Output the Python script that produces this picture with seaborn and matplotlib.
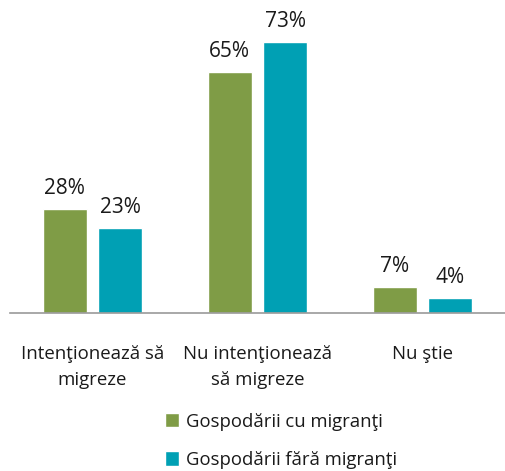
import matplotlib
matplotlib.use("Agg")
from matplotlib import pyplot as plt
import pandas as pd
import seaborn as sns

# Data
categories = ["Intenţionează să\nmigreze", "Nu intenţionează\nsă migreze", "Nu ştie"]
series = ["Gospodării cu migranţi", "Gospodării fără migranţi"]
cu_migranti = [28, 65, 7]
fara_migranti = [23, 73, 4]
colors = ["#7F9C46", "#00A0B4"]

df = pd.DataFrame({
    "categorie": categories * 2,
    "grup": [series[0]] * 3 + [series[1]] * 3,
    "valoare": cu_migranti + fara_migranti,
})

sns.set_style("white")
plt.rcParams["font.family"] = ["Open Sans", "DejaVu Sans"]

fig = plt.figure(figsize=(5.05, 4.71), dpi=100)
ax = fig.add_axes([10 / 505, 1 - 313 / 471, 495 / 505, 297 / 471])

sns.barplot(data=df, x="categorie", y="valoare", hue="grup", palette=colors,
            saturation=1, width=0.67, gap=0.2, ax=ax, legend=True)

for cont in ax.containers:
    ax.bar_label(cont, labels=[f"{int(v)}%" for v in cont.datavalues],
                 padding=7, fontsize=15, color="#1a1a1a")

ax.set_ylim(0, 80)
ax.set_xlim(-0.5, 2.5)
ax.set_xlabel("")
ax.set_ylabel("")
ax.set_yticks([])
ax.tick_params(axis="x", length=0, pad=23, labelsize=13.4, colors="#1a1a1a")
for lbl in ax.get_xticklabels():
    lbl.set_linespacing(1.6)
for s in ["top", "left", "right"]:
    ax.spines[s].set_visible(False)
ax.spines["bottom"].set_color("#9a9a9a")
ax.spines["bottom"].set_linewidth(1.2)

handles, labels = ax.get_legend_handles_labels()
ax.get_legend().remove()
fig.legend(handles, labels, loc="upper left", bbox_to_anchor=(148 / 505, 1 - 396 / 471),
           frameon=False, fontsize=13.3, handlelength=0.8, handleheight=0.8,
           handletextpad=0.35, labelspacing=1.1, labelcolor="#1a1a1a")

fig.savefig("out.png", dpi=100)
